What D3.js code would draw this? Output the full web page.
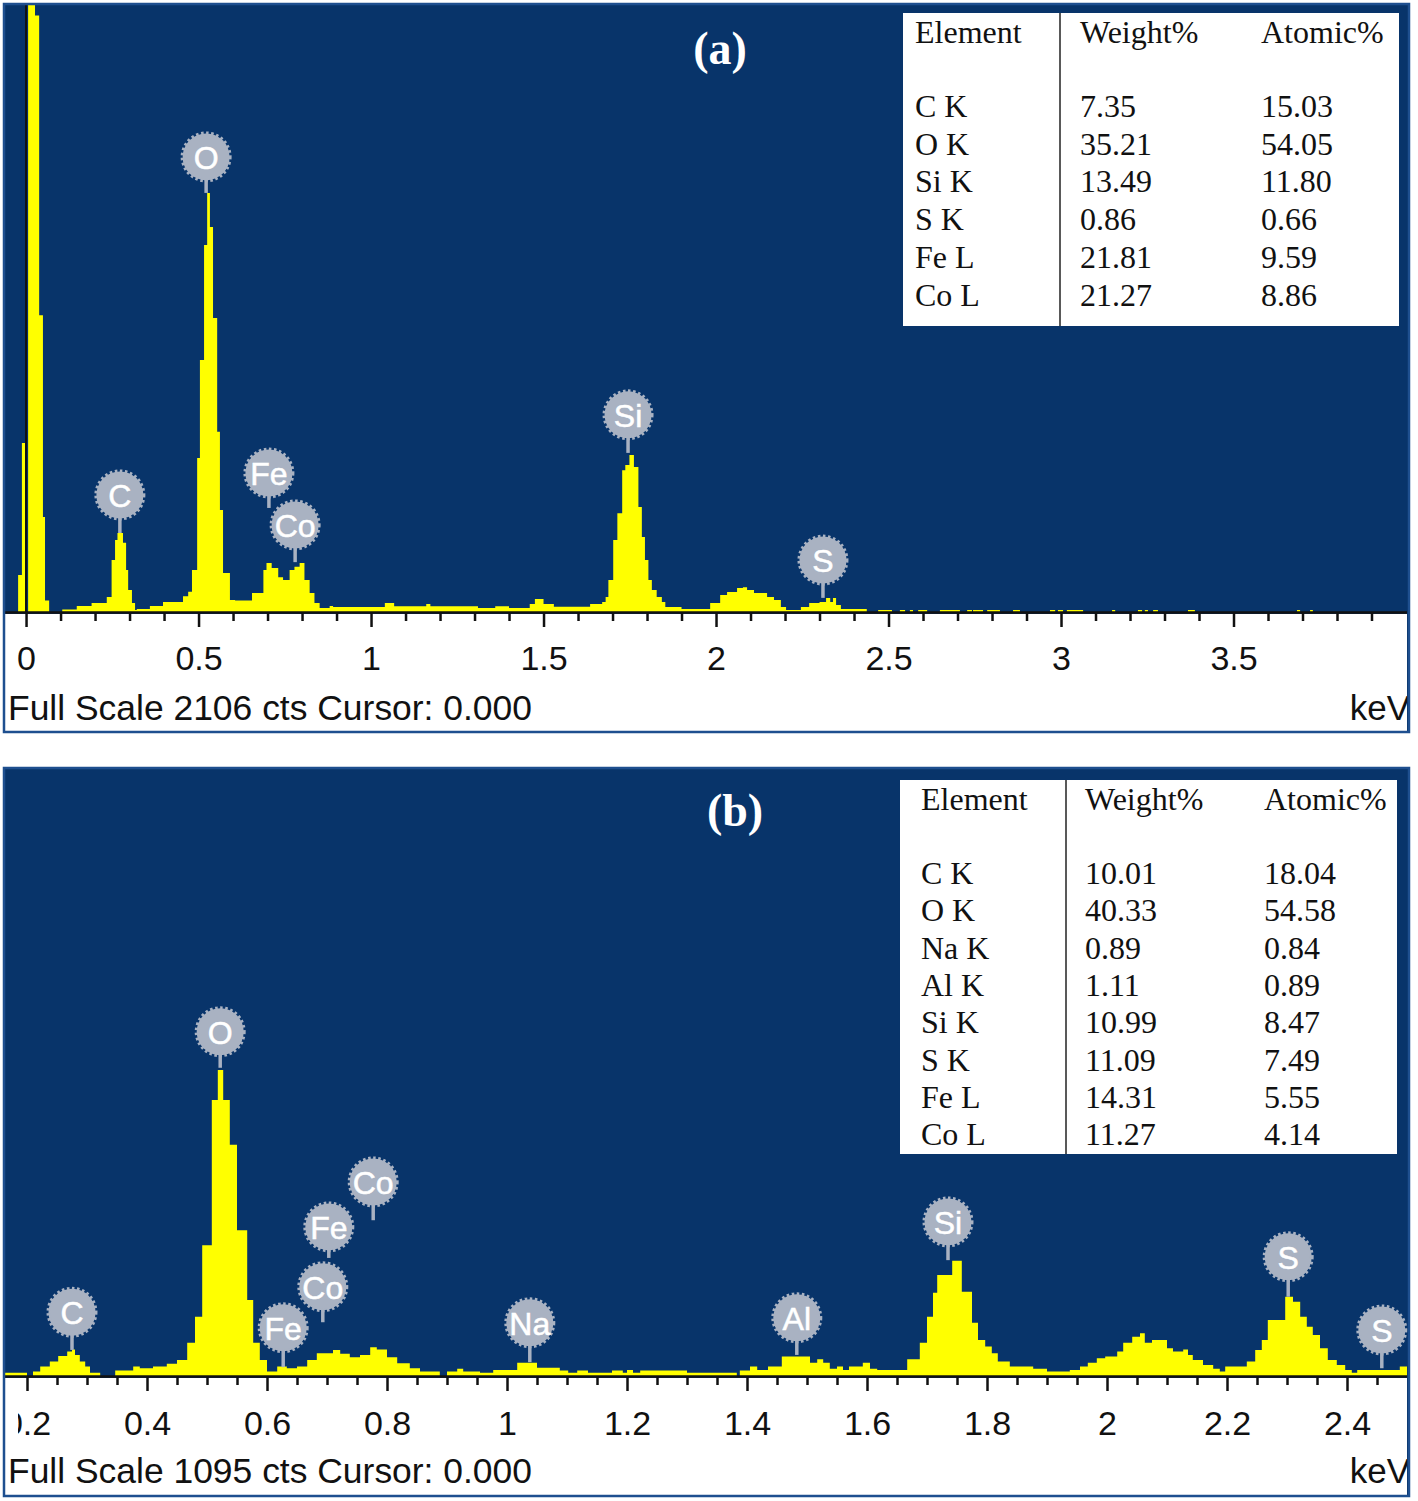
<!DOCTYPE html>
<html><head><meta charset="utf-8">
<script src="https://cdn.jsdelivr.net/npm/d3@7"></script>
<style>html,body{margin:0;padding:0;background:#fff;} svg{display:block}</style>
</head><body>
<svg id="chart" width="1418" height="1501"></svg>
<script>
// ---------------- DATA ----------------
// Spectrum (a): step points [keV (bin left edge), counts]
const spectrumA = [[-0.060,0],[-0.023,128],[-0.012,586],[-0.003,0],[0.006,2300],[0.026,2070],[0.038,1030],[0.049,330],[0.055,40],[0.067,0],
[0.105,9],[0.147,21],[0.190,31],[0.234,52],[0.248,180],[0.258,250],[0.265,274],[0.281,240],[0.290,146],[0.296,76],[0.307,31],[0.316,7],
[0.321,10],[0.359,21],[0.397,35],[0.455,55],[0.470,70],[0.481,146],[0.496,534],[0.504,874],[0.516,1273],[0.525,1454],[0.533,1336],[0.542,1020],
[0.554,625],[0.562,354],[0.571,135],[0.591,42],[0.606,40],[0.655,66],[0.688,146],[0.697,170],[0.712,153],[0.731,121],[0.745,111],[0.764,146],
[0.778,157],[0.793,170],[0.807,111],[0.822,66],[0.836,31],[0.851,14],[0.880,21],[0.890,17],[1.040,31],[1.067,20],[1.160,28],[1.172,20],
[1.310,14],[1.360,20],[1.400,14],[1.460,28],[1.475,45],[1.500,28],[1.530,18],[1.635,28],[1.670,35],[1.680,52],[1.688,111],[1.702,250],
[1.714,343],[1.728,492],[1.737,510],[1.749,545],[1.762,503],[1.775,364],[1.785,260],[1.794,180],[1.804,111],[1.814,76],[1.828,52],[1.843,35],
[1.853,17],[1.900,10],[1.983,31],[2.012,59],[2.032,69],[2.061,83],[2.078,86],[2.090,76],[2.110,66],[2.130,66],[2.148,52],[2.168,42],[2.188,17],
[2.203,7],[2.246,17],[2.270,31],[2.300,35],[2.319,49],[2.331,35],[2.339,49],[2.348,24],[2.362,10],[2.437,0]];
// sparse single-count flickers above 2.4 keV in (a): [start keV, end keV]
const flickerA = [[2.470,2.510],[2.533,2.548],[2.562,2.571],[2.586,2.612],[2.649,2.707],[2.728,2.742],[2.745,2.774],[2.786,2.823],
[2.861,2.881],[2.968,2.983],[2.991,3.006],[3.017,3.064],[3.148,3.157],[3.223,3.235],[3.243,3.252],[3.267,3.281],[3.368,3.388],[3.684,3.693],[3.722,3.730]];
const flickerCountA = 7;

// Spectrum (b)
const spectrumB = [[0.160,6],[0.200,0],[0.210,8],[0.222,17],[0.238,26],[0.252,36],[0.267,44],[0.275,48],[0.280,38],[0.288,26],[0.297,17],
[0.305,6],[0.322,0],[0.347,10],[0.377,17],[0.388,14],[0.410,17],[0.433,22],[0.450,29],[0.467,60],[0.480,107],[0.492,236],[0.508,498],
[0.518,552],[0.527,498],[0.538,417],[0.550,263],[0.567,137],[0.577,60],[0.588,29],[0.600,8],[0.617,17],[0.633,14],[0.650,17],[0.667,29],
[0.683,41],[0.710,47],[0.722,40],[0.738,34],[0.755,38],[0.772,52],[0.783,48],[0.800,34],[0.817,23],[0.838,14],[0.855,8],[0.888,0],[0.900,8],
[0.917,13],[0.927,8],[0.955,6],[0.977,11],[1.017,24],[1.050,15],[1.088,10],[1.102,6],[1.117,10],[1.135,6],[1.175,10],[1.193,6],[1.200,11],
[1.210,6],[1.222,10],[1.300,6],[1.383,0],[1.388,10],[1.405,17],[1.417,11],[1.435,17],[1.458,35],[1.505,24],[1.517,30],[1.527,24],[1.538,13],
[1.550,17],[1.560,11],[1.570,17],[1.593,24],[1.605,13],[1.617,11],[1.667,30],[1.688,60],[1.700,107],[1.710,150],[1.717,182],[1.742,208],
[1.758,152],[1.775,96],[1.785,65],[1.797,53],[1.808,41],[1.818,26],[1.838,17],[1.877,13],[1.900,8],[1.938,11],[1.955,17],[1.968,24],
[1.983,32],[1.997,35],[2.017,44],[2.027,60],[2.042,71],[2.055,77],[2.063,60],[2.075,65],[2.100,50],[2.110,44],[2.127,48],[2.135,38],
[2.143,29],[2.160,20],[2.177,13],[2.188,8],[2.197,17],[2.233,26],[2.247,47],[2.258,65],[2.268,101],[2.297,143],[2.310,134],[2.322,107],
[2.333,89],[2.343,74],[2.355,50],[2.368,29],[2.383,20],[2.397,11],[2.408,6],[2.417,11],[2.488,17],[2.600,17]];

// Element markers: name, energy (keV), peak counts (pin end), marker height (counts)
const markerNamesA = ["C","O","Fe","Co","Si","S"];
const markerEnergyA = [0.272,0.522,0.704,0.780,1.745,2.310];
const markerPeakA = [274,1454,361,173,552,49];
const markerHeightA = [406,1579,482,302,684,180];

const markerNamesB = ["C","O","Fe","Co","Fe","Co","Na","Al","Si","S","S"];
const markerEnergyB = [0.275,0.522,0.627,0.693,0.703,0.777,1.038,1.483,1.735,2.302,2.458];
const markerPeakB = [47,556,16,97,213,281,25,38,209,143,14];
const markerHeightB = [115,621,87,161,269,350,96,105,278,215,83];

// Axes
const majorTicksA = [0,0.5,1,1.5,2,2.5,3,3.5];
const majorLabelsA = ["0","0.5","1","1.5","2","2.5","3","3.5"];
const majorTicksB = [0.2,0.4,0.6,0.8,1,1.2,1.4,1.6,1.8,2,2.2,2.4];
const majorLabelsB = ["0.2","0.4","0.6","0.8","1","1.2","1.4","1.6","1.8","2","2.2","2.4"];
const fullScaleA = 2106, fullScaleB = 1095;

// Tables
const tableHeader = ["Element","Weight%","Atomic%"];
const tableElementsA = ["C K","O K","Si K","S K","Fe L","Co L"];
const weightA = ["7.35","35.21","13.49","0.86","21.81","21.27"];
const atomicA = ["15.03","54.05","11.80","0.66","9.59","8.86"];
const tableElementsB = ["C K","O K","Na K","Al K","Si K","S K","Fe L","Co L"];
const weightB = ["10.01","40.33","0.89","1.11","10.99","11.09","14.31","11.27"];
const atomicB = ["18.04","54.58","0.84","0.89","8.47","7.49","5.55","4.14"];

// ---------------- DRAW ----------------
const svg = d3.select("#chart");
const BG = "#08346a", FRAME = "#1e4f8f", YEL = "#ffff00", BUB = "#a9b2c2";
const SANS = "'Liberation Sans', Arial, sans-serif", SERIF = "'Liberation Serif', 'Times New Roman', serif";

function drawPanel(cfg) {
  const g = svg.append("g");
  const x = d3.scaleLinear().domain(cfg.xDomain).range([5, 1406]);
  const y = d3.scaleLinear().domain([0, cfg.fullScale]).range([cfg.base, cfg.top]);

  g.append("rect").attr("x", 3).attr("y", cfg.frameTop).attr("width", 1407).attr("height", cfg.frameBottom - cfg.frameTop).attr("fill", BG);
  g.append("rect").attr("x", 5).attr("y", cfg.base + 2).attr("width", 1402).attr("height", cfg.frameBottom - cfg.base - 3).attr("fill", "#fff");

  const clipId = "clip" + cfg.id;
  svg.append("clipPath").attr("id", clipId).append("rect")
    .attr("x", 5).attr("y", cfg.top).attr("width", 1402).attr("height", cfg.base - cfg.top);
  const stripId = "strip" + cfg.id;
  svg.append("clipPath").attr("id", stripId).append("rect")
    .attr("x", 5).attr("y", cfg.base).attr("width", 1402).attr("height", cfg.frameBottom - cfg.base);
  const labId = "lab" + cfg.id;
  svg.append("clipPath").attr("id", labId).append("rect")
    .attr("x", cfg.labelClipLeft).attr("y", cfg.base).attr("width", 1407 - cfg.labelClipLeft).attr("height", cfg.frameBottom - cfg.base);

  const area = d3.area().x(d => x(d[0])).y0(cfg.base).y1(d => y(d[1])).curve(d3.curveStepAfter);
  g.append("path").datum(cfg.steps).attr("d", area).attr("fill", YEL).attr("clip-path", `url(#${clipId})`);

  if (cfg.zeroLine) {
    g.append("line").attr("x1", x(0)).attr("x2", x(0)).attr("y1", cfg.top).attr("y2", cfg.base)
      .attr("stroke", "#111").attr("stroke-width", 2).attr("clip-path", `url(#${clipId})`);
  }

  // element markers
  cfg.names.forEach((nm, i) => {
    const cx = x(cfg.energy[i]), cy = y(cfg.height[i]);
    const mg = g.append("g");
    mg.append("line").attr("x1", cx).attr("x2", cx).attr("y1", cy + 20).attr("y2", y(cfg.peak[i]))
      .attr("stroke", BUB).attr("stroke-width", 3.5);
    mg.append("circle").attr("cx", cx).attr("cy", cy).attr("r", 23.5).attr("fill", BUB)
      .attr("stroke", BUB).attr("stroke-width", 4).attr("stroke-dasharray", "2.5,2.5");
    mg.append("text").attr("x", cx).attr("y", cy + 12).attr("text-anchor", "middle")
      .attr("font-family", SANS).attr("font-size", 32).attr("fill", "#fff")
      .attr("stroke", "#fff").attr("stroke-width", 0.5).text(nm);
  });

  // table
  const t = cfg.table;
  const tg = g.append("g");
  tg.append("rect").attr("x", t.x).attr("y", t.y).attr("width", t.w).attr("height", t.h).attr("fill", "#fff");
  tg.append("line").attr("x1", t.div).attr("x2", t.div).attr("y1", t.y).attr("y2", t.y + t.h).attr("stroke", "#222").attr("stroke-width", 1.5);
  tableHeader.forEach((h, j) => {
    tg.append("text").attr("x", t.cols[j]).attr("y", t.headBase).attr("font-family", SERIF).attr("font-size", 32).attr("fill", "#111").text(h);
  });
  t.rows.forEach((r, i) => {
    [r, t.weight[i], t.atomic[i]].forEach((v, j) => {
      tg.append("text").attr("x", t.cols[j]).attr("y", t.rowBase + i * t.step).attr("font-family", SERIF)
        .attr("font-size", 32).attr("fill", "#111").text(v);
    });
  });

  // panel title
  g.append("text").attr("x", cfg.titleX).attr("y", cfg.titleY).attr("text-anchor", "middle")
    .attr("font-family", SERIF).attr("font-weight", "bold").attr("font-size", 46).attr("fill", "#fff").text(cfg.title);

  // axis (wrapper group carries the clip, inner groups carry the transform)
  const axWrap = g.append("g").attr("clip-path", `url(#${stripId})`);
  const ax = axWrap.append("g").attr("transform", `translate(0,${cfg.base})`);
  ax.call(d3.axisBottom(x).tickValues(cfg.minor).tickSize(9).tickSizeOuter(0).tickFormat(""))
    .call(s => s.select(".domain").remove());
  const axM = axWrap.append("g").attr("transform", `translate(0,${cfg.base})`);
  axM.call(d3.axisBottom(x).tickValues(cfg.major).tickSize(15).tickSizeOuter(0).tickFormat(""))
    .call(s => s.select(".domain").remove());
  [ax, axM].forEach(a => a.selectAll(".tick line").attr("stroke", "#111").attr("stroke-width", 2.5));
  // tick labels (own clip so the leftmost one is cut like the reference)
  const labWrap = g.append("g").attr("clip-path", `url(#${labId})`);
  const axL = labWrap.append("g").attr("transform", `translate(0,${cfg.base})`);
  axL.call(d3.axisBottom(x).tickValues(cfg.major).tickSize(0).tickSizeOuter(0)
      .tickFormat((d, i) => cfg.majorLabels[i]))
    .call(s => s.select(".domain").remove());
  axL.selectAll(".tick text").attr("font-family", SANS).attr("font-size", 34).attr("fill", "#111")
    .attr("y", cfg.labelBase - cfg.base).attr("dy", 0);
  g.append("line").attr("x1", 5).attr("x2", 1407).attr("y1", cfg.base + 0.5).attr("y2", cfg.base + 0.5)
    .attr("stroke", "#111").attr("stroke-width", 2.5);

  g.append("text").attr("x", 8).attr("y", cfg.footBase).attr("font-family", SANS).attr("font-size", 35).attr("fill", "#111")
    .attr("textLength", 524).attr("lengthAdjust", "spacingAndGlyphs")
    .text(`Full Scale ${cfg.fullScale} cts Cursor: 0.000`);
  const kg = g.append("g").attr("clip-path", `url(#${stripId})`);
  kg.append("text").attr("x", 1410).attr("y", cfg.footBase).attr("text-anchor", "end").attr("font-family", SANS)
    .attr("font-size", 35).attr("fill", "#111").text("keV");

  g.append("rect").attr("x", 4).attr("y", cfg.frameTop + 1).attr("width", 1405).attr("height", cfg.frameBottom - cfg.frameTop - 2)
    .attr("fill", "none").attr("stroke", FRAME).attr("stroke-width", 2.5);
}

const stepsA = spectrumA.concat(...flickerA.map(([s, e]) => [[s, flickerCountA], [e, 0]]))
  .sort((a, b) => a[0] - b[0]).concat([[4.1, 0]]);
const minorA = d3.range(0, 40).map(i => +(i * 0.1).toFixed(2)).filter(v => !majorTicksA.includes(v));
const minorB = d3.range(4, 50).map(i => +(i * 0.05).toFixed(2)).filter(v => !majorTicksB.includes(v));

drawPanel({
  id: "a", steps: stepsA, xDomain: [-0.061, 4.0], fullScale: fullScaleA,
  frameTop: 3, frameBottom: 733, top: 5, base: 612, labelBase: 670, footBase: 720, labelClipLeft: 5,
  zeroLine: true,
  names: markerNamesA, energy: markerEnergyA, peak: markerPeakA, height: markerHeightA,
  major: majorTicksA, majorLabels: majorLabelsA, minor: minorA,
  title: "(a)", titleX: 720, titleY: 64,
  table: { x: 903, y: 13, w: 496, h: 313, div: 1060, cols: [915, 1080, 1261], headBase: 43, rowBase: 117, step: 37.7,
    rows: tableElementsA, weight: weightA, atomic: atomicA }
});
drawPanel({
  id: "b", steps: spectrumB, xDomain: [0.16333, 2.49833], fullScale: fullScaleB,
  frameTop: 767, frameBottom: 1497, top: 769, base: 1376, labelBase: 1435, footBase: 1483, labelClipLeft: 18,
  zeroLine: false,
  names: markerNamesB, energy: markerEnergyB, peak: markerPeakB, height: markerHeightB,
  major: majorTicksB, majorLabels: majorLabelsB, minor: minorB,
  title: "(b)", titleX: 735, titleY: 826,
  table: { x: 900, y: 780, w: 497, h: 374, div: 1066, cols: [921, 1085, 1264], headBase: 810, rowBase: 884, step: 37.3,
    rows: tableElementsB, weight: weightB, atomic: atomicB }
});
</script>
</body></html>
